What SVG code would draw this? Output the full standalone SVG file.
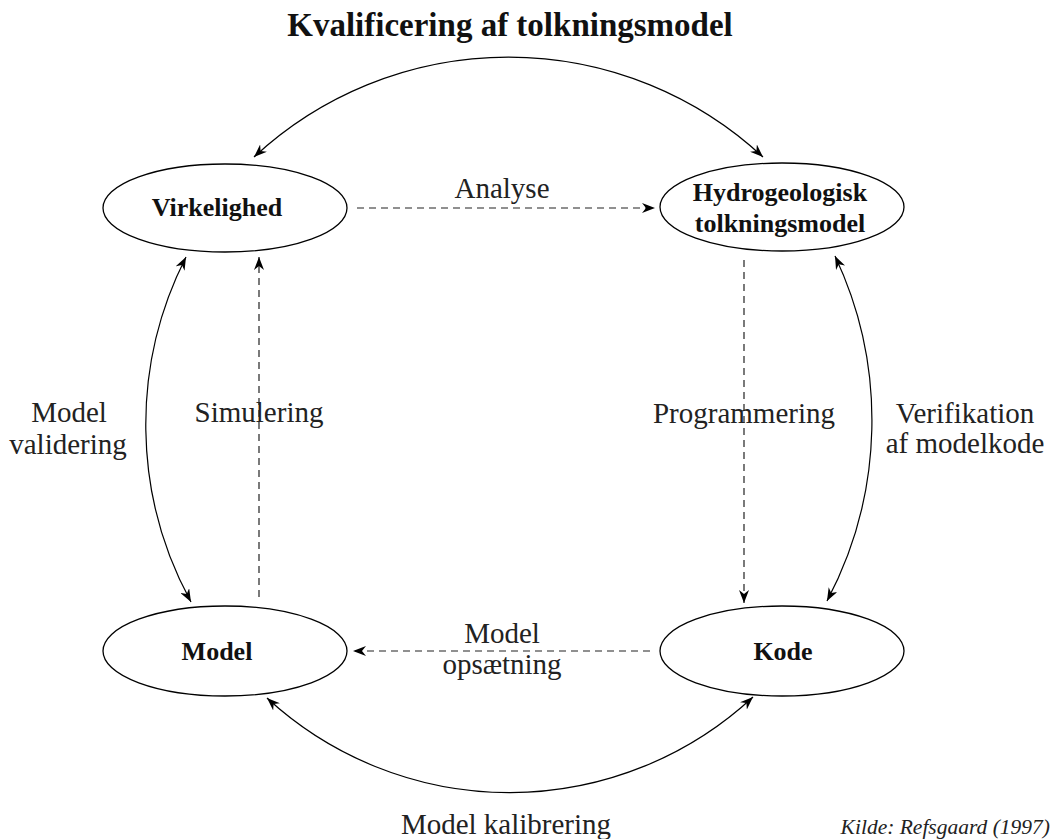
<svg xmlns="http://www.w3.org/2000/svg" width="1053" height="839" viewBox="0 0 1053 839">
<style>
.node ellipse{fill:#fff;stroke:#000;stroke-width:1.3}
.nt{font-family:"Liberation Serif","Times New Roman",serif;font-weight:bold;font-size:26px;fill:#111;text-anchor:middle}
.lbl{font-family:"Liberation Serif","Times New Roman",serif;font-size:29px;fill:#222;text-anchor:middle}
.title{font-family:"Liberation Serif","Times New Roman",serif;font-weight:bold;font-size:33px;fill:#111;text-anchor:middle}
.src{font-family:"Liberation Serif","Times New Roman",serif;font-style:italic;font-size:21.5px;fill:#222;text-anchor:end}
.solid{fill:none;stroke:#000;stroke-width:1.2;marker-start:url(#ah);marker-end:url(#ah)}
.dash{fill:none;stroke:#222;stroke-width:1.2;stroke-dasharray:7 5;marker-end:url(#ah)}
</style>
<defs>
<marker id="ah" viewBox="0 0 13 10" refX="13" refY="5" markerWidth="13" markerHeight="10" markerUnits="userSpaceOnUse" orient="auto-start-reverse">
<path d="M0,0 L13,5 L0,10 L4,5 z" fill="#000" stroke="none"/>
</marker>
</defs>
<rect width="1053" height="839" fill="#fff"/>
<text class="title" x="510" y="36">Kvalificering af tolkningsmodel</text>
<g id="connectors">
<path class="solid" d="M254,157 A374,374 0 0 1 763,157"/>
<path class="solid" d="M186,257 A370,370 0 0 0 191,602"/>
<path class="solid" d="M835,256 A385,385 0 0 1 827,601"/>
<path class="solid" d="M267,698 A358,358 0 0 0 753,697"/>
<path class="dash" d="M357,208 L655,208"/>
<path class="dash" d="M650,651 L353,651"/>
<path class="dash" d="M259,597 L259,257"/>
<path class="dash" d="M744,260 L744,603"/>
</g>
<g id="virkelighed" class="node">
<ellipse cx="225" cy="208" rx="122" ry="44"/>
<text class="nt" x="217" y="216">Virkelighed</text>
</g>
<g id="hydrogeologisk" class="node">
<ellipse cx="782" cy="207" rx="122" ry="44"/>
<text class="nt" x="780" y="201">Hydrogeologisk</text>
<text class="nt" x="780" y="232">tolkningsmodel</text>
</g>
<g id="model" class="node">
<ellipse cx="225" cy="651" rx="122" ry="45"/>
<text class="nt" x="217" y="660">Model</text>
</g>
<g id="kode" class="node">
<ellipse cx="782" cy="651" rx="122" ry="45"/>
<text class="nt" x="783" y="660">Kode</text>
</g>
<g id="labels">
<text class="lbl" x="502" y="198">Analyse</text>
<text class="lbl" x="502" y="643">Model</text>
<text class="lbl" x="502" y="674">opsætning</text>
<text class="lbl" x="69" y="422">Model</text>
<text class="lbl" x="68" y="454">validering</text>
<text class="lbl" x="259" y="422">Simulering</text>
<text class="lbl" x="744" y="423">Programmering</text>
<text class="lbl" x="965" y="423">Verifikation</text>
<text class="lbl" x="965" y="453">af modelkode</text>
<text class="lbl" x="506" y="834">Model kalibrering</text>
<text class="src" x="1050" y="834">Kilde: Refsgaard (1997)</text>
</g>
</svg>
